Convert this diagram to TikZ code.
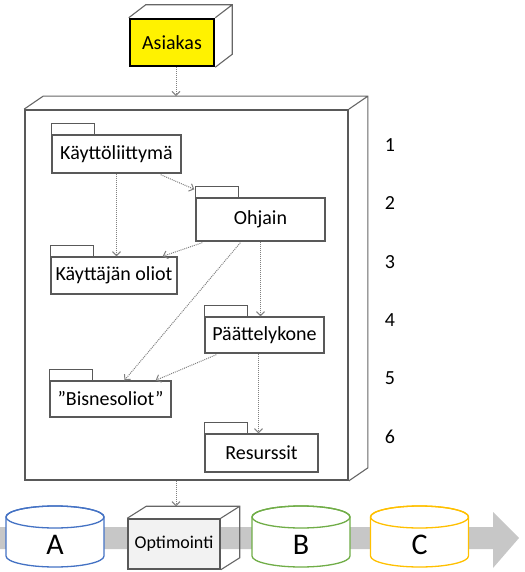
\documentclass[tikz,border=0pt]{standalone}
\usepackage{fontspec}
\setmainfont{Carlito}
\usetikzlibrary{arrows.meta,calc}
% back edges of a box drawn in depth
\newcommand{\depthbox}[3]{%
  \draw[#3] (#1.north west) -- ++(#2) coordinate (#1-bnw) -| ($(#1.south east)+(#2)$) -- (#1.south east)
    (#1.north east) -- ++(#2);}
% database drum with its letter
\newcommand{\dbdrum}[4]{%
  \draw[#3,line width=1.3pt,fill=white] (#2-49,517) -- (#2-49,556) arc[start angle=180,end angle=0,x radius=49,y radius=11]
    -- (#2+49,517) arc[start angle=0,end angle=-180,x radius=49,y radius=11] -- cycle;
  \draw[#3,line width=1.3pt] (#2,517) ellipse[x radius=49,y radius=11];
  \node[font=\fontsize{30}{36}\selectfont] (#1) at (#2,545) {#4};}
\definecolor{dbblue}{RGB}{68,114,196}
\definecolor{dbgreen}{RGB}{112,173,71}
\definecolor{dbgold}{RGB}{255,192,0}
\begin{document}
\begin{tikzpicture}[x=1pt,y=-1pt,
txt/.style={font=\fontsize{20}{24}\selectfont},
pkg/.style={draw=black!65,line width=1.4pt,fill=white,inner sep=0pt,txt},
tab/.style={draw=black!65,line width=1.4pt,fill=white},
dep/.style={draw=black!50,densely dotted,line width=1pt,-{Straight Barb[length=4pt,width=8pt]}},
back/.style={draw=black!60,line width=1.1pt}]
\useasboundingbox (0,0) rectangle (524,572);
% client
\node[draw=black,line width=2.5pt,fill=yellow,minimum width=84,minimum height=47,txt] (asi) at (172,42.5) {Asiakas};
\depthbox{asi}{17,-13}{back}
% system box
\node[draw=black!65,line width=1.7pt,minimum width=323,minimum height=370] (sys) at (186.5,295) {};
\depthbox{sys}{19,-13}{back}
% packages
\node[pkg,minimum width=129,minimum height=38] (kl) at (116.5,154) {Käyttöliittymä};
\node[pkg,minimum width=129,minimum height=43] (oh) at (260.5,219.5) {Ohjain};
\node[pkg,minimum width=126,minimum height=37] (ko) at (114,275.5) {Käyttäjän oliot};
\node[pkg,minimum width=119,minimum height=36] (pk) at (264.5,335) {Päättelykone};
\node[pkg,minimum width=121,minimum height=36] (bo) at (110.5,399) {”Bisnesoliot”};
\node[pkg,minimum width=113,minimum height=38] (re) at (261.5,453) {Resurssit};
\foreach \p in {kl,oh,ko,pk,bo,re}
  \draw[tab] (\p.north west) rectangle ++(43,-11);
% dependencies
\draw[dep] ([xshift=4pt]asi.south) -- ([xshift=4pt]asi.south |- sys-bnw);
\draw[dep] (kl.south) -- (kl.south |- ko.north);
\draw[dep] ([shift={(-21,1)}]kl.south east) -- ([shift={(-1,-8)}]oh.north west);
\draw[dep] ([shift={(7,1)}]oh.south west) -- ([shift={(-15,0)}]ko.north east);
\draw[dep] ([shift={(45,1)}]oh.south west) -- ([shift={(14,0)}]bo.north);
\draw[dep] (oh.south) -- (oh.south |- pk.north);
\draw[dep] ([shift={(12,1)}]pk.south west) -- ([shift={(-16,0)}]bo.north east);
\draw[dep] ([xshift=-6pt]pk.south) -- ([xshift=-6pt]pk.south |- re.north);
% levels
\foreach \i in {1,...,6}
  \node[txt] (lev\i) at (390,{145+58.4*(\i-1)}) {\i};
% pipeline
\fill[black!22] (0,527) -- (493,527) -- (493,512) -- (519,538) -- (493,568) -- (493,549) -- (0,549) -- cycle;
\dbdrum{dba}{55}{dbblue}{A}
\dbdrum{dbb}{301}{dbgreen}{B}
\dbdrum{dbc}{419.5}{dbgold}{C}
\node[draw=black!65,line width=1.5pt,fill=black!5,minimum width=92,minimum height=50,font=\fontsize{18}{21}\selectfont] (opt) at (174,544) {Optimointi};
\depthbox{opt}{19,-12}{back}
\draw[dep] ([xshift=2pt]opt.north |- sys.south) -- ([xshift=2pt]opt.north |- opt-bnw);
\end{tikzpicture}
\end{document}
